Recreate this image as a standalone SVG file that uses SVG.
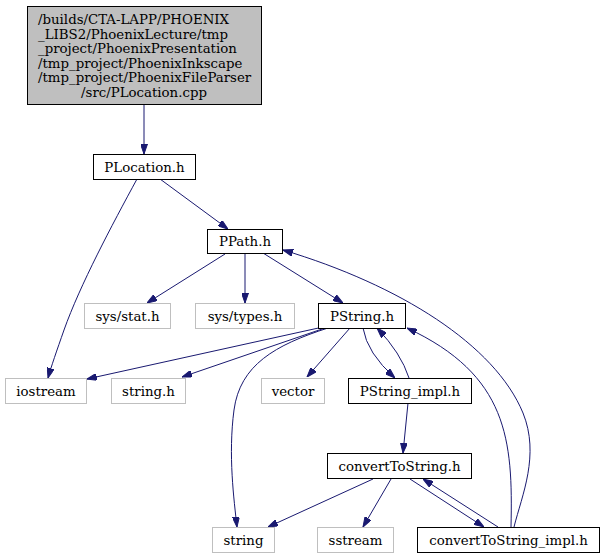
<svg xmlns="http://www.w3.org/2000/svg" width="605" height="559" viewBox="0 0 605 559">
<style>
  .n rect { fill: #ffffff; stroke: #000000; stroke-width: 1; }
  .ext rect { fill: #ffffff; stroke: #bfbfbf; stroke-width: 1; }
  .root rect { fill: #bfbfbf; stroke: #000000; stroke-width: 1; }
  text { font-family: "DejaVu Serif", serif; font-size: 13.33px; fill: #000000; }
  .c { text-anchor: middle; }
  #edges path { fill: none; stroke: #191970; stroke-width: 1; marker-end: url(#arr); }
</style>
<defs>
  <marker id="arr" viewBox="0 0 10 7" refX="10" refY="3.5" markerWidth="10" markerHeight="7" markerUnits="userSpaceOnUse" orient="auto">
    <path d="M0,0 L10,3.5 L0,7 z" fill="#191970" stroke="#191970" stroke-width="1"/>
  </marker>
</defs>
<rect width="605" height="559" fill="#ffffff"/>
<g id="edges">
  <path d="M144,104 L144,154"/>
  <path d="M160,179 L228,229"/>
  <path d="M137,179 C112,225 80,285 64,330 C57,350 51,367 48,378"/>
  <path d="M225,254 L147,303"/>
  <path d="M245,253 L245,303"/>
  <path d="M263,253 L343,303"/>
  <path d="M323,327 L87,379"/>
  <path d="M325,328 L182,377"/>
  <path d="M328,328 C275,345 240,365 234,410 C228,455 234,500 237,527"/>
  <path d="M350,328 L307,377"/>
  <path d="M363,328 Q367,353 395,378"/>
  <path d="M409,378 Q401,353 377,328"/>
  <path d="M511,527 C513,440 508,375 407,328"/>
  <path d="M514,527 C522,495 540,455 523,413 C495,345 400,285 283,250"/>
  <path d="M408,403 L403,453"/>
  <path d="M373,479 L268,527"/>
  <path d="M391,479 L363,527"/>
  <path d="M410,479 L484,527"/>
  <path d="M498,527 L423,479"/>
</g>
<g id="node_root" class="root">
  <rect x="27.5" y="6.5" width="234" height="98"/>
  <text x="38" y="24">/builds/CTA-LAPP/PHOENIX</text>
  <text x="38" y="38.6">_LIBS2/PhoenixLecture/tmp</text>
  <text x="38" y="53.2">_project/PhoenixPresentation</text>
  <text x="38" y="67.8">/tmp_project/PhoenixInkscape</text>
  <text x="38" y="82.4">/tmp_project/PhoenixFileParser</text>
  <text x="144" y="97" class="c">/src/PLocation.cpp</text>
</g>
<g id="node_PLocation" class="n">
  <rect x="93.5" y="154.5" width="102" height="25"/>
  <text x="144.5" y="171.5" class="c">PLocation.h</text>
</g>
<g id="node_PPath" class="n">
  <rect x="207.5" y="229.5" width="75" height="24"/>
  <text x="245" y="246" class="c">PPath.h</text>
</g>
<g id="node_sysstat" class="ext">
  <rect x="84.5" y="303.5" width="86" height="25"/>
  <text x="127.5" y="320.5" class="c">sys/stat.h</text>
</g>
<g id="node_systypes" class="ext">
  <rect x="195.5" y="303.5" width="99" height="25"/>
  <text x="245" y="320.5" class="c">sys/types.h</text>
</g>
<g id="node_PString" class="n">
  <rect x="318.5" y="303.5" width="87" height="25"/>
  <text x="362" y="320.5" class="c">PString.h</text>
</g>
<g id="node_iostream" class="ext">
  <rect x="5.5" y="378.5" width="81" height="25"/>
  <text x="46" y="395.5" class="c">iostream</text>
</g>
<g id="node_stringh" class="ext">
  <rect x="111.5" y="378.5" width="74" height="25"/>
  <text x="148.5" y="395.5" class="c">string.h</text>
</g>
<g id="node_vector" class="ext">
  <rect x="261.5" y="378.5" width="63" height="25"/>
  <text x="293" y="395.5" class="c">vector</text>
</g>
<g id="node_PStringImpl" class="n">
  <rect x="348.5" y="378.5" width="123" height="25"/>
  <text x="410" y="395.5" class="c">PString_impl.h</text>
</g>
<g id="node_convertToString" class="n">
  <rect x="327.5" y="453.5" width="144" height="25"/>
  <text x="399.5" y="470.5" class="c">convertToString.h</text>
</g>
<g id="node_string" class="ext">
  <rect x="212.5" y="527.5" width="62" height="25"/>
  <text x="243.5" y="544.5" class="c">string</text>
</g>
<g id="node_sstream" class="ext">
  <rect x="317.5" y="527.5" width="76" height="25"/>
  <text x="355.5" y="544.5" class="c">sstream</text>
</g>
<g id="node_convertToStringImpl" class="n">
  <rect x="417.5" y="527.5" width="182" height="25"/>
  <text x="508.5" y="544.5" class="c">convertToString_impl.h</text>
</g>
</svg>
